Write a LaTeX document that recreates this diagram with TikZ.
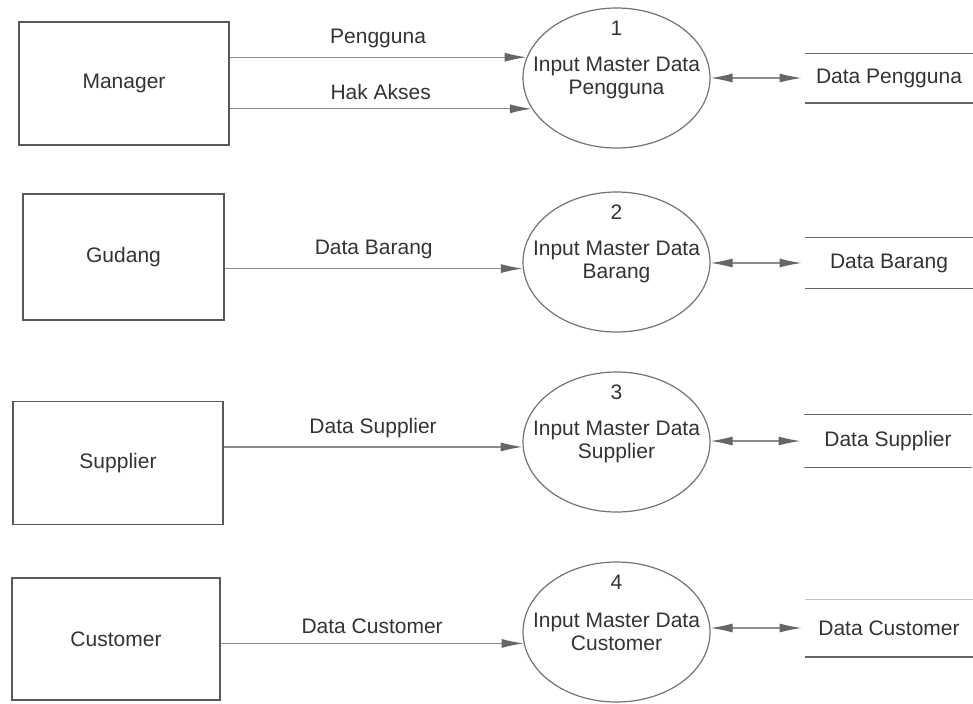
\documentclass[tikz,border=0pt]{standalone}
\usepackage{fontspec}
\setmainfont{Liberation Sans}
\usetikzlibrary{arrows.meta, positioning, shapes.geometric}

\begin{document}
\begin{tikzpicture}[
        x=0.5pt, y=-0.5pt,
        font=\fontsize{10.5}{11.5}\selectfont,
        text=black!80,
        >={Latex[length=11pt,width=4.5pt,color=black!60]},
        entity/.style={draw=black!65, line width=0.6pt, inner sep=0pt},
        proc/.style={ellipse, draw=black!55, line width=0.6pt, minimum width=93.5pt, minimum height=70pt, inner sep=0pt},
        store/.style={minimum width=84pt, inner sep=0pt},
        storeline/.style={draw=black!60, line width=0.6pt},
        flow/.style={draw=black!45, line width=0.6pt, ->},
        dflow/.style={draw=black!45, line width=0.6pt, <->, shorten >=1.5pt},
        lbl/.style={above=1pt, midway}
    ]
        \useasboundingbox (0,0) rectangle (973,703);

        % external entities
        \node[entity, minimum width=105pt, minimum height=61.5pt] (mgr) at (124,83.5) {Manager};
        \node[entity, minimum width=100.5pt, minimum height=63pt] (gdg) at (123.5,257) {Gudang};
        \node[entity, minimum width=105pt, minimum height=61.5pt] (sup) at (118,463) {Supplier};
        \node[entity, minimum width=104pt, minimum height=61pt] (cst) at (116,639) {Customer};

        % processes
        \node[proc, label={[yshift=25pt]center:1}, label={[align=center]center:Input Master Data\\Pengguna}] (p1) at (616.5,78) {};
        \node[proc, label={[yshift=25pt]center:2}, label={[align=center]center:Input Master Data\\Barang}] (p2) at (616.5,262) {};
        \node[proc, label={[yshift=25pt]center:3}, label={[align=center]center:Input Master Data\\Supplier}] (p3) at (616.5,442) {};
        \node[proc, label={[yshift=25pt]center:4}, label={[align=center]center:Input Master Data\\Customer}] (p4) at (616.5,632) {};

        % data stores
        \node[store, minimum height=24.5pt] (ds1) at (889,78) {Data Pengguna};
        \node[store, minimum height=25pt] (ds2) at (889,263) {Data Barang};
        \node[store, minimum height=26pt] (ds3) at (888,441) {Data Supplier};
        \node[store, minimum height=28.5pt] (ds4) at (889,628) {Data Customer};
        \foreach \s in {ds1,ds2,ds3}
            \draw[storeline] (\s.north west) -- (\s.north east) (\s.south west) -- (\s.south east);
        \draw[storeline, draw=black!25] (ds4.north west) -- (ds4.north east);
        \draw[storeline] (ds4.south west) -- (ds4.south east);

        % data flows
        \draw[flow] (mgr.east |- p1.167) -- node[lbl] {Pengguna} (p1.167);
        \draw[flow] (mgr.east |- p1.200) -- node[lbl] {Hak Akses} (p1.200);
        \draw[flow] (gdg.east |- p2.184) -- node[lbl] {Data Barang} (p2.184);
        \draw[flow] (sup.east |- p3.183) -- node[lbl] {Data Supplier} (p3.183);
        \draw[flow] (cst.east |- p4.187) -- node[lbl] {Data Customer} (p4.187);

        \draw[dflow] (ds1.west -| p1.east) -- (ds1.west);
        \draw[dflow] (ds2.west -| p2.east) -- (ds2.west);
        \draw[dflow] (ds3.west -| p3.east) -- (ds3.west);
        \draw[dflow] (ds4.west -| p4.east) -- (ds4.west);
    \end{tikzpicture}
\end{document}
